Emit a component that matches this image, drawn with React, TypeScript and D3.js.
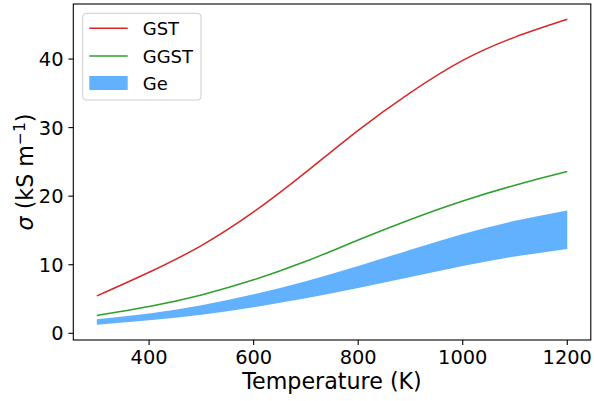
import React from "react";
import * as d3 from "d3";

// Temperature grid (K)
const temperatures = [300, 400, 500, 600, 700, 800, 900, 1000, 1100, 1200];
// Electrical conductivity σ (kS m⁻¹)
const gstValues = [5.45, 8.9, 12.8, 17.7, 23.5, 29.6, 35.1, 39.8, 43.2, 45.8];
const ggstValues = [2.6, 3.9, 5.6, 7.8, 10.5, 13.6, 16.6, 19.3, 21.6, 23.6];
const geUpper = [2.05, 2.9, 4.1, 5.7, 7.6, 9.8, 12.2, 14.5, 16.4, 17.9];
const geLower = [1.25, 1.9, 2.7, 3.8, 5.1, 6.6, 8.2, 9.8, 11.2, 12.3];

const xTicks = [400, 600, 800, 1000, 1200];
const yTicks = [0, 10, 20, 30, 40];

const W = 594;
const H = 401;
const plot = { left: 73.3, right: 590.8, top: 4, bottom: 340 };

const RED = "#d62728";
const GREEN = "#2ca02c";
const BLUE = "#61b1ff";
const FONT = "'DejaVu Sans', sans-serif";

function paddedExtent(values: number[]): [number, number] {
  const [lo, hi] = d3.extent(values) as [number, number];
  const pad = (hi - lo) * 0.05;
  return [lo - pad, hi + pad];
}

export default function App() {
  const x = d3
    .scaleLinear()
    .domain(paddedExtent(temperatures))
    .range([plot.left, plot.right]);
  const y = d3
    .scaleLinear()
    .domain(paddedExtent([...gstValues, ...ggstValues, ...geUpper, ...geLower]))
    .range([plot.bottom, plot.top]);

  const line = d3
    .line<number>()
    .x((_, i) => x(temperatures[i]))
    .y((d) => y(d))
    .curve(d3.curveNatural);

  const area = d3
    .area<number>()
    .x((_, i) => x(temperatures[i]))
    .y0((_, i) => y(geLower[i]))
    .y1((d) => y(d))
    .curve(d3.curveNatural);

  const tickLen = 4.9;
  const legendX = 82.7;
  const legendY = 13.3;

  return (
    <svg
      width={W}
      height={H}
      style={{ position: "absolute", left: 0, top: 0, background: "#fff" }}
      fontFamily={FONT}
    >
      <rect x={0} y={0} width={W} height={H} fill="#fff" />

      {/* data */}
      <path d={area(geUpper) ?? ""} fill={BLUE} stroke="none" />
      <path d={line(gstValues) ?? ""} fill="none" stroke={RED} strokeWidth={1.5} />
      <path d={line(ggstValues) ?? ""} fill="none" stroke={GREEN} strokeWidth={1.5} />

      {/* frame */}
      <rect
        x={plot.left}
        y={plot.top}
        width={plot.right - plot.left}
        height={plot.bottom - plot.top}
        fill="none"
        stroke="#000"
        strokeWidth={1.1}
      />

      {/* x axis */}
      {xTicks.map((t) => (
        <g key={"x" + t}>
          <line
            x1={x(t)}
            x2={x(t)}
            y1={plot.bottom}
            y2={plot.bottom + tickLen}
            stroke="#000"
            strokeWidth={1.1}
          />
          <text x={x(t)} y={364} fontSize={19.4} textAnchor="middle" fill="#000">
            {t}
          </text>
        </g>
      ))}
      <text
        x={(plot.left + plot.right) / 2}
        y={389}
        fontSize={22.2}
        textAnchor="middle"
        fill="#000"
      >
        Temperature (K)
      </text>

      {/* y axis */}
      {yTicks.map((t) => (
        <g key={"y" + t}>
          <line
            x1={plot.left - tickLen}
            x2={plot.left}
            y1={y(t)}
            y2={y(t)}
            stroke="#000"
            strokeWidth={1.1}
          />
          <text
            x={63.5}
            y={y(t) + 7}
            fontSize={19.4}
            textAnchor="end"
            fill="#000"
          >
            {t}
          </text>
        </g>
      ))}
      <text
        transform={`translate(33,${(plot.top + plot.bottom) / 2}) rotate(-90)`}
        fontSize={22.2}
        textAnchor="middle"
        fill="#000"
      >
        <tspan fontStyle="italic">σ</tspan>
        <tspan> (kS m</tspan>
        <tspan fontSize={15.5} dy={-8}>−1</tspan>
        <tspan dy={8}>)</tspan>
      </text>

      {/* legend */}
      <rect
        x={legendX}
        y={legendY}
        width={118.3}
        height={86.7}
        rx={3.5}
        fill="#fff"
        fillOpacity={0.8}
        stroke="#cccccc"
        strokeWidth={1}
      />
      <line x1={89.3} x2={127.7} y1={28.3} y2={28.3} stroke={RED} strokeWidth={1.5} />
      <text x={142.7} y={35} fontSize={18} fill="#000">GST</text>
      <line x1={89.3} x2={127.7} y1={56} y2={56} stroke={GREEN} strokeWidth={1.5} />
      <text x={142.7} y={62.7} fontSize={18} fill="#000">GGST</text>
      <rect x={89.3} y={76} width={38.4} height={14} fill={BLUE} />
      <text x={142.7} y={90.3} fontSize={18} fill="#000">Ge</text>
    </svg>
  );
}
